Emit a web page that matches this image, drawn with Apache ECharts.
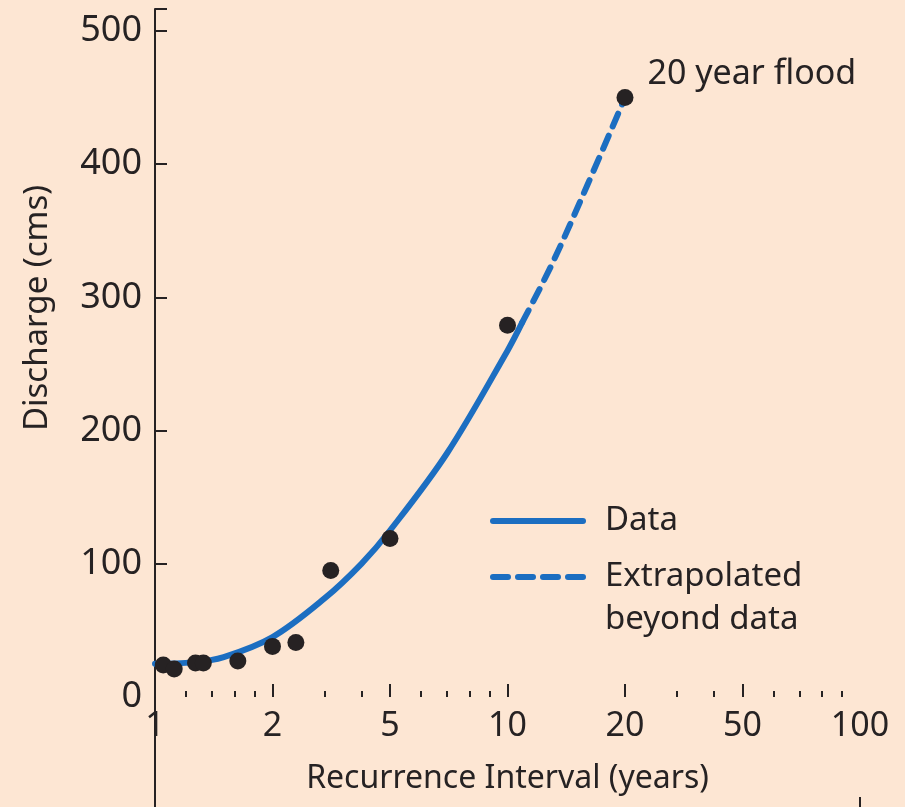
<!DOCTYPE html>
<html>
<head>
<meta charset="utf-8">
<script src="https://cdn.jsdelivr.net/npm/echarts@6/dist/echarts.min.js"></script>
<style>
  html, body { margin: 0; padding: 0; background: #fde6d3; }
  #chart { width: 905px; height: 807px; }
</style>
</head>
<body>
<div id="chart"></div>
<script>
// Recurrence intervals that carry a labelled tick; each step gets equal width on the axis
const tickYears = [1, 2, 5, 10, 20, 50, 100];
const tickLabels = ['1', '2', '5', '10', '20', '50', '100'];
const minorTickYears = [1.2, 1.4, 1.6, 1.8, 3, 4, 6, 7, 8, 9, 30, 40, 60, 70, 80, 90];
const dischargeTicks = [0, 100, 200, 300, 400, 500];

// Annual peak discharges (cms) and their recurrence intervals (years)
const peakYears = [1.05, 1.12, 1.27, 1.33, 1.63, 2.0, 2.4, 3.15, 5.0, 10.0];
const peakDischarge = [24, 21, 25.5, 25.5, 27, 38, 41, 95, 119, 279];

// Fitted curve over the measured range
const fitYears = [1, 1.25, 1.5, 2, 3, 4, 5, 7, 10, 10.9];
const fitDischarge = [25, 26, 30, 45, 74, 100, 125, 183, 260, 281];

// Same curve carried past the data
const extYears = [10.9, 13, 16, 20];
const extDischarge = [281, 325, 384, 450];

// The 20 year flood
const floodYears = [20];
const floodDischarge = [450];
const floodLabel = '20 year flood';

const INK = '#262223';
const BLUE = '#1c6ec1';
const FONT = 'Noto Sans';

// Position along the x axis: log-spaced inside each labelled step
function toPos(t) {
  for (let i = 0; i < tickYears.length - 1; i++) {
    const a = tickYears[i], b = tickYears[i + 1];
    if (t <= b || i === tickYears.length - 2) {
      return i + Math.log(t / a) / Math.log(b / a);
    }
  }
}
const pairs = (xs, ys) => xs.map((t, i) => [toPos(t), ys[i]]);

// Legend swatches: a solid bar and a row of four rounded dashes (96 x 6)
const SOLID_ICON = 'path://M3 0H93A3 3 0 0 1 93 6H3A3 3 0 0 1 3 0Z';
const DASH_ICON = 'path://M3 0H18A3 3 0 0 1 18 6H3A3 3 0 0 1 3 0Z' +
  'M28 0H43A3 3 0 0 1 43 6H28A3 3 0 0 1 28 0Z' +
  'M53 0H68A3 3 0 0 1 68 6H53A3 3 0 0 1 53 0Z' +
  'M78 0H93A3 3 0 0 1 93 6H78A3 3 0 0 1 78 0Z';

const chart = echarts.init(document.getElementById('chart'), null, { renderer: 'canvas' });

const legendText = { fontSize: 33, color: INK, fontFamily: FONT, lineHeight: 43, padding: [0, 0, 0, 14] };

const xBase = {
  type: 'value', min: 0, max: tickYears.length - 1, position: 'bottom',
  axisLine: { show: false, onZero: false },
  splitLine: { show: false }
};

const option = {
  backgroundColor: '#fde6d3',
  animation: false,
  grid: { left: 155, right: 45, top: 9, bottom: 110, outerBoundsMode: 'none' },
  xAxis: [
    Object.assign({}, xBase, {
      name: 'Recurrence Interval (years)', nameLocation: 'middle', nameGap: 66,
      nameTextStyle: { fontSize: 32, color: INK, fontFamily: FONT },
      axisTick: { show: true, inside: true, length: 13, lineStyle: { color: INK, width: 2 },
                  customValues: [1, 2, 3, 4, 5] },
      axisLabel: { show: true, margin: 12, fontSize: 34, color: INK, fontFamily: FONT,
                   customValues: tickYears.map((t) => toPos(t)),
                   formatter: (v) => tickLabels[Math.round(v)] }
    }),
    Object.assign({}, xBase, {
      axisTick: { show: true, inside: true, length: 6, lineStyle: { color: INK, width: 2 },
                  customValues: minorTickYears.map((t) => toPos(t)) },
      axisLabel: { show: false }
    })
  ],
  yAxis: {
    type: 'value', min: 0, max: 516.5,
    axisLine: { show: true, onZero: false, lineStyle: { color: INK, width: 2 } },
    axisTick: { show: true, inside: true, length: 12, lineStyle: { color: INK, width: 2 },
                customValues: [100, 200, 300, 400, 500, 516.5] },
    axisLabel: { show: true, margin: 13, fontSize: 36, color: INK, fontFamily: FONT,
                 customValues: dischargeTicks },
    splitLine: { show: false }
  },
  legend: [
    {
      left: 490, top: 499.5, padding: 0, orient: 'vertical', selectedMode: false,
      itemWidth: 96, itemHeight: 6,
      data: [{ name: 'Data', icon: SOLID_ICON }],
      itemStyle: { color: BLUE, borderWidth: 0 },
      textStyle: legendText
    },
    {
      left: 490, top: 512.5, padding: 0, orient: 'vertical', selectedMode: false,
      itemWidth: 96, itemHeight: 6,
      data: [{ name: 'Extrapolated\nbeyond data', icon: DASH_ICON }],
      // a blank first line keeps "Extrapolated" level with the dashed swatch
      formatter: (name) => '\n' + name,
      itemStyle: { color: BLUE, borderWidth: 0 },
      textStyle: legendText
    }
  ],
  series: [
    {
      name: 'Data', type: 'line', xAxisIndex: 0, smooth: 0.35, symbol: 'none',
      data: pairs(fitYears, fitDischarge),
      lineStyle: { color: BLUE, width: 6, cap: 'round' },
      itemStyle: { color: BLUE }, z: 2
    },
    {
      name: 'Extrapolated\nbeyond data', type: 'line', xAxisIndex: 0, smooth: 0.35, symbol: 'none',
      data: pairs(extYears, extDischarge),
      lineStyle: { color: BLUE, width: 6, type: [14, 10], cap: 'round' },
      itemStyle: { color: BLUE }, z: 2
    },
    {
      name: 'Annual peaks', type: 'scatter', xAxisIndex: 0, symbolSize: 17,
      data: pairs(peakYears, peakDischarge),
      itemStyle: { color: INK, opacity: 1 }, z: 3
    },
    {
      name: floodLabel, type: 'scatter', xAxisIndex: 0, symbolSize: 17,
      data: pairs(floodYears, floodDischarge).map((p) => ({ value: p, name: floodLabel })),
      itemStyle: { color: INK, opacity: 1 }, z: 3,
      label: { show: true, position: 'right', distance: 14, offset: [0, -23],
               formatter: '{b}', fontSize: 34, color: INK, fontFamily: FONT }
    }
  ]
};

chart.setOption(option);

// Decorations placed from the axes: the discharge axis runs on below the baseline,
// and a short frame stub sits under the last recurrence tick
const left = chart.convertToPixel({ xAxisIndex: 0 }, 0);
const right = chart.convertToPixel({ xAxisIndex: 0 }, tickYears.length - 1);
const base = chart.convertToPixel({ yAxisIndex: 0 }, 0);
chart.setOption({
  graphic: [
    {
      type: 'text', x: 38, y: 308, rotation: Math.PI / 2,
      style: { text: 'Discharge (cms)', fontSize: 33, fill: INK, fontFamily: FONT,
               align: 'center', verticalAlign: 'middle' }
    },
    { type: 'line', shape: { x1: left, y1: base, x2: left, y2: 807 },
      style: { stroke: INK, lineWidth: 2 } },
    { type: 'line', shape: { x1: right, y1: 797, x2: right, y2: 807 },
      style: { stroke: INK, lineWidth: 2 } }
  ]
});
</script>
</body>
</html>
